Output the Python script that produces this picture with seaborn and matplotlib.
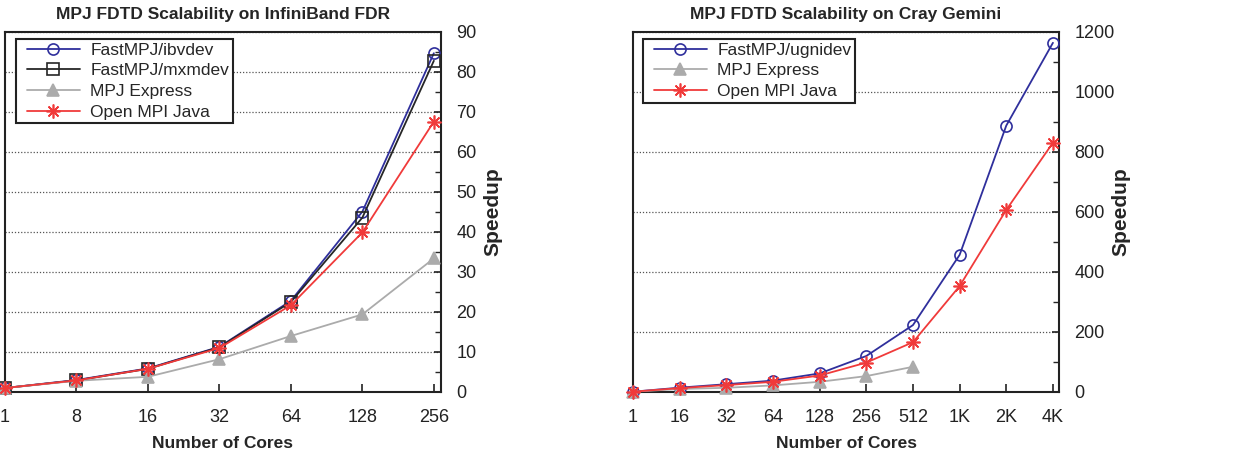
import matplotlib
matplotlib.use("Agg")
import matplotlib.pyplot as plt
from matplotlib.lines import Line2D
from matplotlib.legend_handler import HandlerLine2D
from matplotlib.ticker import MultipleLocator
import seaborn as sns
import numpy as np

# ---------------- data ----------------
ib_cores = ['1', '8', '16', '32', '64', '128', '256']
ib_ibvdev = [1.0, 3.0, 5.9, 11.3, 22.8, 45.1, 84.7]
ib_mxmdev = [1.0, 2.9, 5.8, 11.2, 22.5, 43.6, 82.8]
ib_mpjexpress = [1.0, 2.8, 3.8, 8.2, 14.0, 19.4, 33.4]
ib_openmpi = [1.0, 2.9, 5.8, 11.0, 21.7, 39.9, 67.6]

cray_cores = ['1', '16', '32', '64', '128', '256', '512', '1K', '2K', '4K']
cray_ugnidev = [1, 14.5, 26, 38, 62, 120, 223, 457, 888, 1164]
cray_mpjexpress = [1, 10, 14, 22, 34, 53, 84]
cray_openmpi = [1, 13, 23, 34, 55, 98, 166, 353, 607, 831]

# ---------------- style ----------------
sns.set_theme(style="white")
plt.rcParams['font.family'] = ['Liberation Sans', 'DejaVu Sans']
FS = 12.5

BLUE = '#2f2f9c'
BLACK = '#262626'
GRAY = '#ababab'
RED = '#f03a3a'
ASTER = (8, 2, 0)

fig = plt.figure(figsize=(12.55, 4.63), dpi=100)
W, H = 1255.0, 463.0
ax1 = fig.add_axes([5 / W, 1 - 392 / H, 436 / W, 360 / H])
ax2 = fig.add_axes([633 / W, 1 - 392 / H, 426 / W, 360 / H])


def draw(ax, y, label, color, marker, filled=False, ms=8, lw=1.3):
    x = np.arange(len(y))
    sns.lineplot(x=x, y=y, ax=ax, color=color, linewidth=lw, label=label,
                 marker=marker, markersize=ms,
                 markerfacecolor=(color if filled else 'none'),
                 markeredgecolor=color, markeredgewidth=1.2,
                 clip_on=False, zorder=3)


def style_axes(ax, cats, ymax, ymajor, yminor, xmax, title, ylab_x):
    ax.set_xlim(0, xmax)
    ax.set_ylim(0, ymax)
    ax.set_xticks(np.arange(len(cats)))
    ax.set_xticklabels(cats)
    ax.yaxis.set_major_locator(MultipleLocator(ymajor))
    ax.yaxis.set_minor_locator(MultipleLocator(yminor))
    ax.yaxis.tick_right()
    ax.yaxis.set_label_position('right')
    ax.tick_params(axis='y', which='major', direction='in', length=5, width=1.2,
                   right=True, left=False, labelsize=13, pad=11, colors='#222222')
    ax.tick_params(axis='y', which='minor', direction='in', length=4, width=1.0,
                   right=True, left=False)
    ax.tick_params(axis='x', which='major', direction='in', length=6, width=1.2,
                   bottom=True, top=False, labelsize=13, pad=12, colors='#222222')
    for s in ax.spines.values():
        s.set_visible(True)
        s.set_color('#222222')
        s.set_linewidth(1.5)
    ax.grid(axis='y', which='major', linestyle=(0, (1, 1.5)), color='#555555',
            linewidth=0.9)
    ax.grid(axis='x', visible=False)
    ax.set_axisbelow(True)
    ax.set_title(title, fontsize=FS, fontweight='bold', pad=9)
    ax.set_xlabel('Number of Cores', fontsize=FS, fontweight='bold')
    ax.set_ylabel('Speedup', fontsize=15, fontweight='bold', rotation=90)
    ax.xaxis.set_label_coords(0.5, -0.143)
    ax.xaxis.label.set_va('center')
    ax.yaxis.set_label_coords(ylab_x, 0.5)
    ax.yaxis.label.set_va('center')
    ax.yaxis.label.set_ha('center')


# ---------- left: InfiniBand ----------
draw(ax1, ib_ibvdev, 'FastMPJ/ibvdev', BLUE, 'o')
draw(ax1, ib_mxmdev, 'FastMPJ/mxmdev', BLACK, 's')
draw(ax1, ib_mpjexpress, 'MPJ Express', GRAY, '^', filled=True)
draw(ax1, ib_openmpi, 'Open MPI Java', RED, ASTER, ms=10)
style_axes(ax1, ib_cores, 90, 10, 5, 6.1,
           'MPJ FDTD Scalability on InfiniBand FDR', (493 - 5) / 436)

# ---------- right: Cray Gemini ----------
draw(ax2, cray_ugnidev, 'FastMPJ/ugnidev', BLUE, 'o')
draw(ax2, cray_mpjexpress, 'MPJ Express', GRAY, '^', filled=True)
draw(ax2, cray_openmpi, 'Open MPI Java', RED, ASTER, ms=10)
style_axes(ax2, cray_cores, 1200, 200, 100, 9.13,
           'MPJ FDTD Scalability on Cray Gemini', (1120.5 - 633) / 426)

for ax, anchor in ((ax1, (10.7 / 436, 1 - 7 / 360)), (ax2, (9.7 / 426, 1 - 7 / 360))):
    h, l = ax.get_legend_handles_labels()
    leg = ax.legend(h, l, loc='upper left', bbox_to_anchor=anchor,
                    borderaxespad=0, fontsize=FS, frameon=True, fancybox=False,
                    framealpha=1, edgecolor='#222222', borderpad=0.2,
                    labelspacing=0.32, handlelength=3.5, handletextpad=0.6,
                    handler_map={Line2D: HandlerLine2D(xpad=0.44)})
    leg.get_frame().set_linewidth(1.5)
    leg.set_zorder(5)

fig.savefig('out.png', dpi=100)
